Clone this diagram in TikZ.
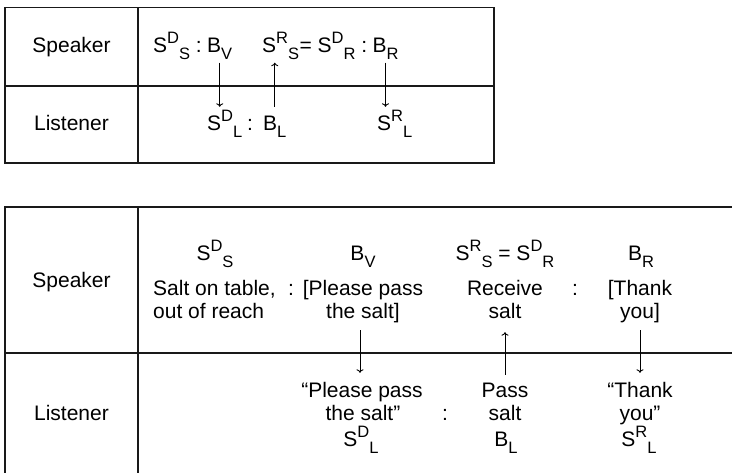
\documentclass[tikz,border=0pt]{standalone}
\usepackage{fontspec}
\setmainfont{Liberation Sans}
\usetikzlibrary{arrows.meta}
\newcommand{\hi}[1]{\raisebox{8.3pt}{\fontsize{16.5}{16.5}\selectfont #1}}
\newcommand{\lo}[1]{\raisebox{-7pt}{\fontsize{16.5}{16.5}\selectfont #1}}
\tikzset{
  txt/.style={inner sep=0pt, font=\fontsize{21}{24}\selectfont, text height=15pt, text depth=4.5pt},
  frm/.style={txt, text height=20pt, text depth=7.5pt},
  gridline/.style={line width=1.3pt, color=black!90},
  arr/.style={-{To[length=3.5pt,width=7pt]}, line width=0.9pt},
}
\begin{document}
\begin{tikzpicture}[x=1pt,y=-1pt]
\useasboundingbox (0,0) rectangle (732,472);
% ---------- top table ----------
\draw[gridline] (5,7.5) rectangle (494,163);
\draw[gridline] (5,86) -- (494,86);
\draw[gridline] (138,7.5) -- (138,163);
\node[txt, anchor=base] (spk1) at (71.5,52) {Speaker};
\node[txt, anchor=base] (lst1) at (71.5,130) {Listener};
% row 1
\node[frm, anchor=base west] (SDS) at (153,52) {S\hi{D}\lo{S} :};
\node[frm, anchor=base west] (BV) at ([xshift=5pt]SDS.base east) {B\lo{V}};
\node[frm, anchor=base west] (SRS) at (262,52) {S\hi{R}\lo{S}};
\node[frm, anchor=base west] (EQ) at (SRS.base east) {= S\hi{D}\lo{R} :};
\node[frm, anchor=base west] (BR) at ([xshift=5pt]EQ.base east) {B\lo{R}};
% row 2
\node[frm, anchor=base west] (SDL) at (207,130) {S\hi{D}\lo{L}};
\node[frm, anchor=base west] (c1) at (247,130) {:};
\node[frm, anchor=base west] (BL) at (263,130) {B\lo{L}};
\node[frm, anchor=base west] (SRL) at (377,130) {S\hi{R}\lo{L}};
% arrows
\draw[arr, shorten <=3pt, shorten >=3pt] (BV.south) -- (BV.south |- SDL.north);
\draw[arr, shorten <=3pt, shorten >=3pt] (BL.north) -- (BL.north |- SRS.south);
\draw[arr, shorten <=3pt, shorten >=3pt] (BR.south) -- (BR.south |- SRL.north);
% ---------- bottom table ----------
\draw[gridline] (5,475) -- (5,207) -- (735,207);
\draw[gridline] (5,353) -- (735,353);
\draw[gridline] (138,207) -- (138,475);
\node[txt, anchor=base] (spk2) at (71.5,287) {Speaker};
\node[txt, anchor=base] (lst2) at (71.5,420) {Listener};
% row 1, line A
\node[frm, anchor=base] (sds2) at (215,260) {S\hi{D}\lo{S}};
\node[frm, anchor=base] (bv2) at (363,260) {B\lo{V}};
\node[frm, anchor=base] (srs2) at (505,260) {S\hi{R}\lo{S} = S\hi{D}\lo{R}};
\node[frm, anchor=base] (br2) at (641,260) {B\lo{R}};
% row 1, line B
\node[txt, anchor=base west] (salt) at (153,295) {Salt on table,};
\node[txt, anchor=base] (c2) at (291,295) {:};
\node[txt, anchor=base] (pp1) at (363,295) {[Please pass};
\node[txt, anchor=base] (rec) at (505,295) {Receive};
\node[txt, anchor=base] (c3) at (575,295) {:};
\node[txt, anchor=base] (th1) at (640,295) {[Thank};
% row 1, line C
\node[txt, anchor=base west] (reach) at (153,318) {out of reach};
\node[txt, anchor=base] (ts1) at (363,318) {the salt]};
\node[txt, anchor=base] (salt1) at (505,318) {salt};
\node[txt, anchor=base] (you1) at (640,318) {you]};
% row 2
\node[txt, anchor=base] (pp2) at (362,397) {``Please pass};
\node[txt, anchor=base] (ts2) at (363,420) {the salt''};
\node[frm, anchor=base] (sdl2) at (361,446) {S\hi{D}\lo{L}};
\node[txt, anchor=base] (c4) at (445,420) {:};
\node[txt, anchor=base] (pass) at (505,397) {Pass};
\node[txt, anchor=base] (salt2) at (505,420) {salt};
\node[frm, anchor=base] (bl2) at (506,446) {B\lo{L}};
\node[txt, anchor=base] (th2) at (640,397) {``Thank};
\node[txt, anchor=base] (you2) at (640,420) {you''};
\node[frm, anchor=base] (srl2) at (639,446) {S\hi{R}\lo{L}};
% arrows
\draw[arr, shorten <=7.5pt, shorten >=9pt] ([xshift=-3pt]ts1.south) -- ([xshift=-3pt]ts1.south |- pp2.north);
\draw[arr, shorten <=7pt, shorten >=9.5pt] (pass.north) -- (pass.north |- salt1.south);
\draw[arr, shorten <=7.5pt, shorten >=9pt] (you1.south) -- (you1.south |- th2.north);
\end{tikzpicture}
\end{document}
